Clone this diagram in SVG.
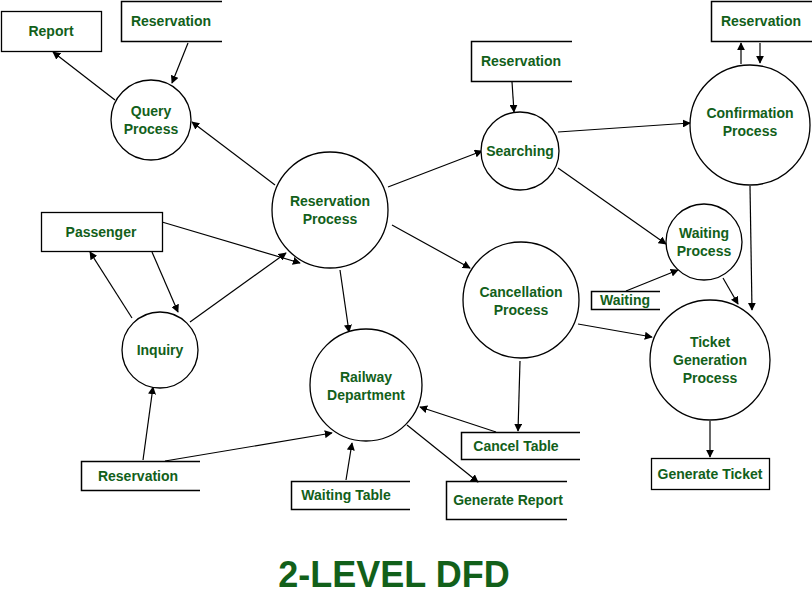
<svg xmlns="http://www.w3.org/2000/svg" width="812" height="595" viewBox="0 0 812 595">
<defs>
<marker id="ah" viewBox="0 0 10 10" refX="9" refY="5" markerWidth="8" markerHeight="8" orient="auto" markerUnits="userSpaceOnUse">
<path d="M0,0 L10,5 L0,10 z" fill="#000"/>
</marker>
<style>
.c{fill:#fff;stroke:#000;stroke-width:1.3}
.b{fill:#fff;stroke:#000;stroke-width:1.3}
.o{fill:none;stroke:#000;stroke-width:1.5}
.t{font-family:"Liberation Sans",Arial,sans-serif;font-weight:bold;font-size:14px;fill:#12601a;text-anchor:middle}
.e line{stroke:#000;stroke-width:1.2;marker-end:url(#ah)}
</style>
</defs>
<rect width="812" height="595" fill="#fff"/>
<g id="connectors" class="e">
<line x1="115" y1="100" x2="53" y2="52"/>
<line x1="188" y1="43" x2="172" y2="83"/>
<line x1="275" y1="185" x2="192" y2="122"/>
<line x1="512" y1="82" x2="514" y2="112"/>
<line x1="558" y1="132" x2="690" y2="123"/>
<line x1="741" y1="64" x2="741" y2="43"/>
<line x1="760" y1="43" x2="760" y2="63"/>
<line x1="388" y1="187" x2="482" y2="151"/>
<line x1="558" y1="168" x2="666" y2="244"/>
<line x1="750" y1="186" x2="752" y2="310"/>
<line x1="626" y1="291" x2="678" y2="270"/>
<line x1="723" y1="278" x2="738" y2="304"/>
<line x1="392" y1="225" x2="470" y2="268"/>
<line x1="578" y1="324" x2="652" y2="337"/>
<line x1="520" y1="361" x2="518" y2="431"/>
<line x1="496" y1="432" x2="420" y2="407"/>
<line x1="407" y1="425" x2="478" y2="482"/>
<line x1="346" y1="480" x2="352" y2="443"/>
<line x1="165" y1="461" x2="332" y2="433"/>
<line x1="143" y1="460" x2="153" y2="387"/>
<line x1="340" y1="270" x2="349" y2="332"/>
<line x1="162" y1="222" x2="300" y2="263"/>
<line x1="190" y1="322" x2="286" y2="253"/>
<line x1="132" y1="318" x2="90" y2="252"/>
<line x1="152" y1="252" x2="178" y2="312"/>
<line x1="710" y1="421" x2="710" y2="457"/>
</g>
<g id="report"><rect class="b" x="1.5" y="11.5" width="100" height="40"/><text class="t" x="51" y="36">Report</text></g>
<g id="res-tl"><path class="o" d="M222,1.5 H121.5 V41.5 H222"/><text class="t" x="171" y="26">Reservation</text></g>
<g id="query"><circle class="c" cx="151" cy="120" r="40"/><text class="t" x="151" y="116">Query</text><text class="t" x="151" y="134">Process</text></g>
<g id="res-tm"><path class="o" d="M572,41.5 H471.5 V81.5 H572"/><text class="t" x="521" y="66">Reservation</text></g>
<g id="searching"><circle class="c" cx="520" cy="151" r="39"/><text class="t" x="520" y="156">Searching</text></g>
<g id="res-tr"><path class="o" d="M812,1.5 H711.5 V41.5 H812"/><text class="t" x="761" y="26">Reservation</text></g>
<g id="confirmation"><circle class="c" cx="750" cy="125" r="60"/><text class="t" x="750" y="118">Confirmation</text><text class="t" x="750" y="136">Process</text></g>
<g id="resproc"><circle class="c" cx="330" cy="210" r="58"/><text class="t" x="330" y="206">Reservation</text><text class="t" x="330" y="224">Process</text></g>
<g id="passenger"><rect class="b" x="41.5" y="212.5" width="121" height="39"/><text class="t" x="101" y="237">Passenger</text></g>
<g id="waitproc"><circle class="c" cx="704" cy="242" r="38"/><text class="t" x="704" y="238">Waiting</text><text class="t" x="704" y="256">Process</text></g>
<g id="cancellation"><circle class="c" cx="521" cy="300" r="58"/><text class="t" x="521" y="297">Cancellation</text><text class="t" x="521" y="315">Process</text></g>
<g id="waiting"><path class="o" d="M660,291.5 H591.5 V309.5 H660"/><text class="t" x="625" y="305">Waiting</text></g>
<g id="ticketgen"><circle class="c" cx="710" cy="360" r="60"/><text class="t" x="710" y="347">Ticket</text><text class="t" x="710" y="365">Generation</text><text class="t" x="710" y="383">Process</text></g>
<g id="inquiry"><circle class="c" cx="160" cy="350" r="38"/><text class="t" x="160" y="355">Inquiry</text></g>
<g id="railway"><circle class="c" cx="366" cy="385" r="56"/><text class="t" x="366" y="382">Railway</text><text class="t" x="366" y="400">Department</text></g>
<g id="canceltable"><path class="o" d="M580,432.5 H461.5 V459.5 H580"/><text class="t" x="516" y="451">Cancel Table</text></g>
<g id="res-b"><path class="o" d="M200,461.5 H81.5 V490.5 H200"/><text class="t" x="138" y="481">Reservation</text></g>
<g id="waitingtable"><path class="o" d="M410,481.5 H291.5 V509.5 H410"/><text class="t" x="346" y="500">Waiting Table</text></g>
<g id="genreport"><path class="o" d="M567,481.5 H446.5 V519.5 H567"/><text class="t" x="508" y="505">Generate Report</text></g>
<g id="genticket"><rect class="b" x="651.5" y="458.5" width="118" height="31"/><text class="t" x="710" y="479">Generate Ticket</text></g>
<text x="394" y="587" font-family="Liberation Sans,Arial,sans-serif" font-weight="bold" font-size="36" fill="#12601a" text-anchor="middle">2-LEVEL DFD</text>
</svg>
